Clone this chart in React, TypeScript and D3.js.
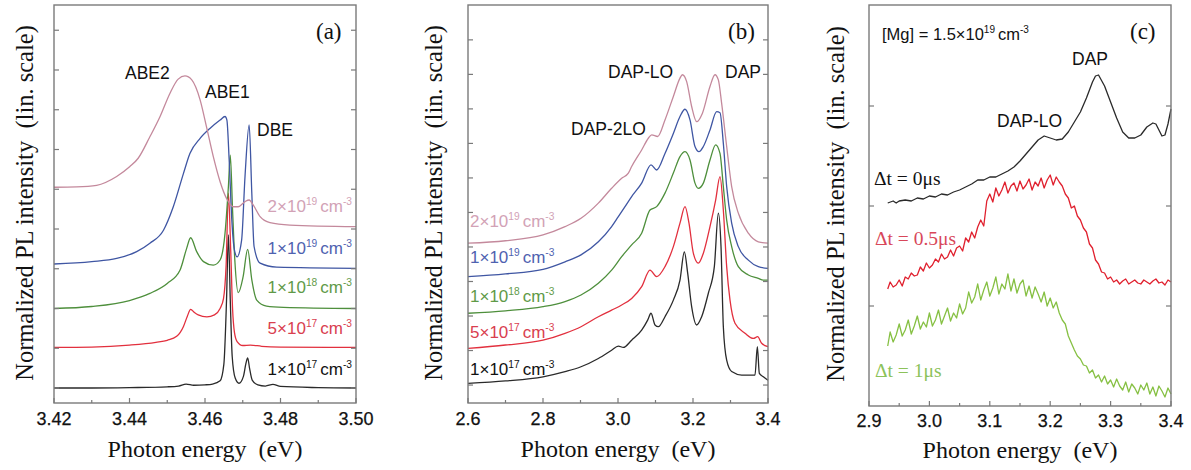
import React from "react";
import * as d3 from "d3";

type Pt = [number, number];

const SANS = "'Liberation Sans', Arial, sans-serif";
const SERIF = "'Liberation Serif', 'Times New Roman', serif";

// ---- panel (a): near band edge, 5 doping levels (offset, normalized) ----
const aXMajor = [3.42, 3.44, 3.46, 3.48, 3.5];
const aXMinor = [3.43, 3.45, 3.47, 3.49];
const aYTicks = [0, 1, 2, 3, 4, 5, 6, 7, 8, 9];

const a1e17: Pt[] = [[3.42,0.0],[3.43,0.0],[3.44,0.01],[3.45,0.03],[3.453,0.05],[3.455,0.1],[3.457,0.07],[3.46,0.08],[3.462,0.1],[3.464,0.18],[3.465,0.6],[3.4657,2.2],[3.4662,3.85],[3.4667,2.2],[3.4672,0.8],[3.468,0.25],[3.469,0.12],[3.4702,0.3],[3.4708,0.6],[3.4713,0.76],[3.4718,0.5],[3.4725,0.2],[3.474,0.08],[3.476,0.05],[3.478,0.09],[3.48,0.04],[3.49,0.01],[3.5,0.0]];
const a5e17: Pt[] = [[3.42,1.02],[3.43,1.03],[3.44,1.08],[3.447,1.15],[3.45,1.2],[3.4525,1.3],[3.4543,1.55],[3.4553,1.8],[3.4562,1.98],[3.4572,1.9],[3.4582,1.84],[3.4605,1.79],[3.4625,1.84],[3.464,2.0],[3.4649,2.25],[3.4656,3.1],[3.4662,4.9],[3.4668,3.5],[3.4673,2.0],[3.4678,1.4],[3.4685,1.17],[3.47,1.07],[3.472,1.08],[3.475,1.05],[3.48,1.03],[3.5,1.02]];
const a1e18: Pt[] = [[3.42,2.0],[3.43,2.05],[3.44,2.2],[3.4454,2.38],[3.45,2.63],[3.4534,2.97],[3.4551,3.5],[3.4562,3.78],[3.4578,3.43],[3.4596,3.18],[3.4622,3.09],[3.464,3.22],[3.4653,3.89],[3.4662,5.07],[3.4667,5.86],[3.4673,4.48],[3.4679,3.22],[3.4688,2.4],[3.4701,2.8],[3.4713,3.49],[3.4724,2.72],[3.4737,2.21],[3.4763,2.06],[3.4808,2.03],[3.5,2.0]];
const a1e19: Pt[] = [[3.42,3.12],[3.43,3.18],[3.4366,3.26],[3.4419,3.43],[3.4454,3.64],[3.449,3.97],[3.4516,4.56],[3.4543,5.4],[3.456,5.9],[3.4587,6.28],[3.4613,6.53],[3.464,6.74],[3.4653,6.83],[3.4658,6.74],[3.4664,5.74],[3.4671,4.23],[3.4678,3.47],[3.4685,3.3],[3.4697,3.72],[3.4706,5.32],[3.4717,6.62],[3.4724,4.9],[3.473,3.56],[3.4746,3.14],[3.479,3.04],[3.5,3.01]];
const a2e19: Pt[] = [[3.42,5.05],[3.426,5.06],[3.4313,5.1],[3.4366,5.32],[3.4401,5.57],[3.4423,5.78],[3.4454,6.32],[3.4481,6.83],[3.4507,7.41],[3.4529,7.77],[3.4547,7.85],[3.4565,7.75],[3.4587,7.25],[3.4604,6.57],[3.4622,5.82],[3.464,5.19],[3.4657,4.77],[3.4675,4.56],[3.4688,4.56],[3.4706,4.69],[3.4717,4.73],[3.4728,4.6],[3.4746,4.31],[3.4772,4.16],[3.4825,4.1],[3.5,4.06]];

// ---- panel (b): DAP band ----
const bXMajor = [2.6, 2.8, 3.0, 3.2, 3.4];
const bXMinor = [2.7, 2.9, 3.1, 3.3];
const bYTicks = [0, 1, 2, 3, 4, 5, 6, 7, 8, 9, 10];

const b1e17: Pt[] = [[2.6,0.05],[2.7,0.12],[2.8,0.24],[2.8587,0.39],[2.9013,0.53],[2.9476,0.77],[2.983,1.01],[3.0009,1.13],[3.0142,1.09],[3.0364,1.3],[3.0631,1.59],[3.0791,1.88],[3.088,2.08],[3.0987,1.74],[3.1076,1.69],[3.1253,1.98],[3.1476,2.46],[3.1653,3.04],[3.1769,3.86],[3.1858,3.24],[3.1964,2.27],[3.2098,1.74],[3.2231,1.98],[3.2409,2.66],[3.2569,3.43],[3.2676,4.98],[3.2747,4.01],[3.2809,1.69],[3.2898,0.72],[3.3031,0.39],[3.3298,0.29],[3.3653,0.29],[3.3716,1.11],[3.3769,0.34],[3.3876,0.24],[3.4,0.14]];
const b5e17: Pt[] = [[2.6,1.06],[2.7,1.16],[2.8,1.3],[2.8587,1.5],[2.9013,1.69],[2.9476,1.98],[2.983,2.17],[3.0098,2.32],[3.0364,2.51],[3.0631,2.85],[3.0853,3.33],[3.1031,3.14],[3.1253,3.43],[3.1476,4.01],[3.1653,4.69],[3.1787,5.17],[3.1893,4.69],[3.2009,3.82],[3.2142,3.53],[3.2276,3.82],[3.2453,4.59],[3.2604,5.36],[3.272,6.04],[3.2809,5.07],[3.2898,3.43],[3.2987,2.46],[3.312,1.79],[3.3387,1.5],[3.3609,1.35],[3.3724,1.4],[3.3831,1.21],[3.4,1.11]];
const b1e18: Pt[] = [[2.6,2.08],[2.7,2.15],[2.8,2.27],[2.8587,2.42],[2.9013,2.61],[2.9476,2.95],[2.983,3.33],[3.0098,3.72],[3.0364,4.06],[3.0631,4.4],[3.0853,5.07],[3.1031,5.17],[3.1253,5.56],[3.1476,6.14],[3.1653,6.62],[3.1787,6.76],[3.192,6.52],[3.2053,5.85],[3.2142,5.7],[3.2276,5.85],[3.2453,6.52],[3.2604,6.96],[3.272,6.71],[3.2809,5.75],[3.2898,4.78],[3.3031,4.01],[3.3209,3.43],[3.3476,3.19],[3.3742,3.09],[3.3876,3.04],[3.4,3.04]];
const b1e19: Pt[] = [[2.6,3.14],[2.7,3.22],[2.8,3.35],[2.8587,3.57],[2.9013,3.77],[2.9476,4.15],[2.983,4.59],[3.0009,4.88],[3.0187,5.17],[3.0364,5.46],[3.0631,5.85],[3.088,6.38],[3.1031,6.23],[3.1253,6.71],[3.1476,7.29],[3.1653,7.78],[3.1787,7.99],[3.192,7.68],[3.2053,6.91],[3.216,6.76],[3.2276,6.91],[3.2453,7.39],[3.2631,7.92],[3.272,7.89],[3.2809,7.0],[3.2898,5.75],[3.3031,4.69],[3.3209,4.01],[3.3476,3.62],[3.3742,3.43],[3.4,3.38]];
const b2e19: Pt[] = [[2.6,4.11],[2.7,4.18],[2.8,4.35],[2.8587,4.59],[2.9013,4.83],[2.9476,5.27],[2.983,5.7],[3.0098,5.99],[3.0276,6.14],[3.0364,6.33],[3.0631,6.81],[3.0809,7.15],[3.0898,7.25],[3.1058,7.2],[3.1253,7.68],[3.1476,8.36],[3.1653,8.89],[3.1716,8.99],[3.1831,8.79],[3.1964,8.07],[3.2098,7.63],[3.2249,7.87],[3.2453,8.65],[3.2587,8.99],[3.2676,8.84],[3.2764,8.16],[3.2898,6.91],[3.3031,5.75],[3.3209,4.98],[3.3476,4.4],[3.3742,4.15],[3.4,4.11]];

// ---- panel (c): time resolved, [Mg] = 1.5e19 ----
const cXMajor = [2.9, 3.0, 3.1, 3.2, 3.3, 3.4];
const cXMinor = [2.95, 3.05, 3.15, 3.25, 3.35];
const cYTicks = [1, 2, 3];

const cDt0: Pt[] = [[2.931,2.03],[2.94,2.05],[2.945,2.03],[2.95,2.05],[2.96,2.06],[2.97,2.05],[2.98,2.08],[2.99,2.07],[3.0,2.1],[3.01,2.09],[3.02,2.12],[3.03,2.11],[3.04,2.14],[3.05,2.16],[3.06,2.19],[3.07,2.22],[3.08,2.26],[3.09,2.26],[3.1,2.29],[3.11,2.29],[3.12,2.32],[3.13,2.35],[3.14,2.39],[3.15,2.45],[3.16,2.52],[3.17,2.59],[3.18,2.66],[3.19,2.7],[3.2,2.68],[3.21,2.66],[3.22,2.67],[3.23,2.74],[3.24,2.84],[3.25,2.94],[3.26,3.08],[3.27,3.24],[3.275,3.3],[3.28,3.31],[3.29,3.2],[3.3,3.04],[3.31,2.88],[3.32,2.74],[3.33,2.68],[3.34,2.68],[3.35,2.71],[3.36,2.79],[3.37,2.83],[3.375,2.82],[3.385,2.7],[3.39,2.71],[3.395,2.82],[3.4,2.97]];
const cDt05: Pt[] = [[2.931,1.17],[2.935,1.24],[2.94,1.19],[2.945,1.21],[2.95,1.26],[2.955,1.2],[2.96,1.29],[2.965,1.27],[2.97,1.33],[2.975,1.3],[2.98,1.31],[2.985,1.39],[2.99,1.35],[2.995,1.43],[3.0,1.38],[3.005,1.41],[3.01,1.47],[3.015,1.44],[3.02,1.52],[3.025,1.47],[3.03,1.49],[3.035,1.56],[3.04,1.5],[3.045,1.58],[3.05,1.6],[3.055,1.55],[3.06,1.68],[3.065,1.64],[3.07,1.74],[3.075,1.68],[3.08,1.79],[3.085,1.86],[3.09,1.8],[3.095,2.05],[3.1,2.12],[3.105,2.04],[3.11,2.18],[3.115,2.1],[3.12,2.16],[3.125,2.24],[3.13,2.13],[3.135,2.2],[3.14,2.23],[3.145,2.15],[3.15,2.25],[3.155,2.17],[3.16,2.21],[3.165,2.27],[3.17,2.16],[3.175,2.24],[3.18,2.2],[3.185,2.28],[3.19,2.18],[3.195,2.26],[3.2,2.31],[3.205,2.21],[3.21,2.29],[3.215,2.24],[3.22,2.2],[3.225,2.12],[3.23,2.08],[3.235,1.98],[3.24,2.0],[3.245,1.9],[3.25,1.86],[3.255,1.78],[3.26,1.74],[3.265,1.62],[3.27,1.58],[3.275,1.46],[3.28,1.42],[3.285,1.34],[3.29,1.33],[3.295,1.27],[3.3,1.29],[3.305,1.24],[3.31,1.26],[3.315,1.22],[3.32,1.25],[3.325,1.27],[3.33,1.22],[3.335,1.24],[3.34,1.26],[3.345,1.23],[3.35,1.22],[3.355,1.26],[3.36,1.24],[3.365,1.22],[3.37,1.25],[3.375,1.27],[3.38,1.23],[3.385,1.24],[3.39,1.21],[3.395,1.26],[3.4,1.24]];
const cDt1: Pt[] = [[2.931,0.6],[2.935,0.74],[2.94,0.64],[2.945,0.71],[2.95,0.82],[2.955,0.7],[2.96,0.76],[2.965,0.86],[2.97,0.72],[2.975,0.8],[2.98,0.9],[2.985,0.77],[2.99,0.84],[2.995,0.79],[3.0,0.93],[3.005,0.8],[3.01,0.86],[3.015,0.96],[3.02,0.82],[3.025,0.9],[3.03,0.98],[3.035,0.85],[3.04,0.93],[3.045,0.88],[3.05,1.02],[3.055,0.92],[3.06,0.98],[3.065,1.14],[3.07,1.03],[3.075,1.09],[3.08,1.22],[3.085,1.06],[3.09,1.16],[3.095,1.24],[3.1,1.1],[3.105,1.18],[3.11,1.29],[3.115,1.12],[3.12,1.22],[3.125,1.17],[3.13,1.32],[3.135,1.15],[3.14,1.27],[3.145,1.13],[3.15,1.22],[3.155,1.26],[3.16,1.1],[3.165,1.2],[3.17,1.08],[3.175,1.19],[3.18,1.12],[3.185,1.04],[3.19,1.14],[3.195,1.0],[3.2,1.08],[3.205,0.98],[3.21,1.04],[3.215,0.93],[3.22,0.86],[3.225,0.82],[3.23,0.7],[3.235,0.63],[3.24,0.56],[3.245,0.5],[3.25,0.47],[3.255,0.41],[3.26,0.4],[3.265,0.33],[3.27,0.36],[3.275,0.28],[3.28,0.31],[3.285,0.24],[3.29,0.3],[3.295,0.22],[3.3,0.26],[3.305,0.19],[3.31,0.27],[3.315,0.2],[3.32,0.16],[3.325,0.24],[3.33,0.14],[3.335,0.22],[3.34,0.18],[3.345,0.12],[3.35,0.21],[3.355,0.16],[3.36,0.23],[3.365,0.12],[3.37,0.19],[3.375,0.1],[3.38,0.2],[3.385,0.15],[3.39,0.09],[3.395,0.18],[3.4,0.12]];

interface Series { data: Pt[]; color: string; smooth?: boolean }
interface Box { l: number; r: number; t: number; b: number }

const FRAME = "#7a7a7a";

function Panel(props: {
  box: Box;
  xDomain: [number, number];
  yDomain: [number, number];
  xMajor: number[];
  xMinor: number[];
  yTicks: number[];
  fmt: (v: number) => string;
  series: Series[];
  labelY: number;
  titleY: number;
}) {
  const { box, xDomain, yDomain, xMajor, xMinor, yTicks, fmt, series, labelY, titleY } = props;
  const x = d3.scaleLinear().domain(xDomain).range([box.l, box.r]);
  const y = d3.scaleLinear().domain(yDomain).range([box.b, box.t]);
  const mkLine = (smooth?: boolean) =>
    d3
      .line<Pt>()
      .x((d) => x(d[0]))
      .y((d) => y(d[1]))
      .curve(smooth ? d3.curveMonotoneX : d3.curveLinear);
  const cx = (box.l + box.r) / 2;
  return (
    <g>
      {series.map((s, i) => (
        <path key={i} d={mkLine(s.smooth)(s.data) || ""} fill="none" stroke={s.color} strokeWidth={1.3} strokeLinejoin="round" />
      ))}
      <rect x={box.l} y={box.t} width={box.r - box.l} height={box.b - box.t} fill="none" stroke={FRAME} strokeWidth={1.4} />
      {yTicks.map((t) => (
        <g key={"y" + t}>
          <line x1={box.l} x2={box.l + 5} y1={y(t)} y2={y(t)} stroke={FRAME} strokeWidth={1.2} />
          <line x1={box.r} x2={box.r - 5} y1={y(t)} y2={y(t)} stroke={FRAME} strokeWidth={1.2} />
        </g>
      ))}
      {xMajor.map((t) => (
        <g key={"x" + t}>
          <line x1={x(t)} x2={x(t)} y1={box.b} y2={box.b - 5} stroke={FRAME} strokeWidth={1.2} />
          <text x={x(t)} y={labelY} textAnchor="middle" fontFamily={SANS} fontSize={18} fill="#111" stroke="#111" strokeWidth={0.25}>
            {fmt(t)}
          </text>
        </g>
      ))}
      {xMinor.map((t) => (
        <line key={"m" + t} x1={x(t)} x2={x(t)} y1={box.b} y2={box.b - 3} stroke={FRAME} strokeWidth={1.2} />
      ))}
      <text x={cx} y={titleY} textAnchor="middle" fontFamily={SERIF} fontSize={24} fill="#111" style={{ whiteSpace: "pre" }}>
        {"Photon energy  (eV)"}
      </text>
    </g>
  );
}

function YTitle({ x, y }: { x: number; y: number }) {
  return (
    <text transform={`translate(${x},${y}) rotate(-90)`} textAnchor="middle" fontFamily={SERIF} fontSize={24.5} fill="#111" style={{ whiteSpace: "pre" }}>
      {"Normalized PL intensity  (lin. scale)"}
    </text>
  );
}

function Conc({ x, y, mant, exp, color, anchor = "start", size = 17 }: { x: number; y: number; mant: string; exp: string; color: string; anchor?: string; size?: number }) {
  const sup = size * 0.6;
  const up = size * 0.42;
  return (
    <text x={x} y={y} textAnchor={anchor} fontFamily={SANS} fontSize={size} fill={color}>
      <tspan>{mant}×10</tspan>
      <tspan dy={-up} fontSize={sup}>{exp}</tspan>
      <tspan dy={up} dx={3}>cm</tspan>
      <tspan dy={-up} fontSize={sup}>-3</tspan>
    </text>
  );
}

function Lbl({ x, y, t, size = 17.5 }: { x: number; y: number; t: string; size?: number }) {
  return (
    <text x={x} y={y} fontFamily={SANS} fontSize={size} fill="#111">
      {t}
    </text>
  );
}

function Dt({ x, y, t, color }: { x: number; y: number; t: string; color: string }) {
  return (
    <text x={x} y={y} fontFamily={SERIF} fontSize={19.5} fill={color} style={{ whiteSpace: "pre" }}>
      {t}
    </text>
  );
}

const PINK = "#c4899c", BLUE = "#3f56a3", GREEN = "#4e8f3c", RED = "#e2303e", BLACK = "#2a2a2a";

export default function App() {
  const fmt2 = (v: number) => v.toFixed(2);
  const fmt1 = (v: number) => v.toFixed(1);
  return (
    <svg width={1191} height={470} style={{ position: "absolute", left: 0, top: 0, background: "#fff" }}>
      {/* (a) */}
      <Panel
        box={{ l: 54, r: 356, t: 5, b: 403 }}
        xDomain={[3.42, 3.5]}
        yDomain={[-0.377, 9.635]}
        xMajor={aXMajor}
        xMinor={aXMinor}
        yTicks={aYTicks}
        fmt={fmt2}
        labelY={425}
        titleY={457}
        series={[
          { data: a1e17, color: BLACK, smooth: true },
          { data: a5e17, color: RED, smooth: true },
          { data: a1e18, color: GREEN, smooth: true },
          { data: a1e19, color: BLUE, smooth: true },
          { data: a2e19, color: PINK, smooth: true },
        ]}
      />
      <YTitle x={33} y={203} />
      <Lbl x={125} y={79} t="ABE2" />
      <Lbl x={205} y={98} t="ABE1" />
      <Lbl x={257} y={136} t="DBE" />
      <text x={316} y={39} fontFamily={SERIF} fontSize={23} fill="#111">(a)</text>
      <Conc x={352} y={212} mant="2" exp="19" color="#d2a2b6" anchor="end" />
      <Conc x={352} y={254} mant="1" exp="19" color="#4f62b0" anchor="end" />
      <Conc x={352} y={293} mant="1" exp="18" color="#5f9a48" anchor="end" />
      <Conc x={352} y={334} mant="5" exp="17" color="#d9404f" anchor="end" />
      <Conc x={352} y={375} mant="1" exp="17" color="#111" anchor="end" />

      {/* (b) */}
      <Panel
        box={{ l: 468, r: 768, t: 5, b: 403 }}
        xDomain={[2.6, 3.4]}
        yDomain={[-0.52, 11.01]}
        xMajor={bXMajor}
        xMinor={bXMinor}
        yTicks={bYTicks}
        fmt={fmt1}
        labelY={425}
        titleY={457}
        series={[
          { data: b2e19, color: PINK, smooth: true },
          { data: b1e19, color: BLUE, smooth: true },
          { data: b1e18, color: GREEN, smooth: true },
          { data: b5e17, color: RED, smooth: true },
          { data: b1e17, color: BLACK, smooth: true },
        ]}
      />
      <YTitle x={442} y={203} />
      <Lbl x={608} y={78} t="DAP-LO" />
      <Lbl x={725} y={78} t="DAP" />
      <Lbl x={571} y={135} t="DAP-2LO" />
      <text x={728} y={39} fontFamily={SERIF} fontSize={23} fill="#111">(b)</text>
      <Conc x={470} y={227} mant="2" exp="19" color="#d2a2b6" />
      <Conc x={470} y={263} mant="1" exp="19" color="#4f62b0" />
      <Conc x={470} y={302} mant="1" exp="18" color="#5f9a48" />
      <Conc x={470} y={338} mant="5" exp="17" color="#d9404f" />
      <Conc x={470} y={375} mant="1" exp="17" color="#111" />

      {/* (c) */}
      <Panel
        box={{ l: 869, r: 1171, t: 5, b: 406 }}
        xDomain={[2.9, 3.4]}
        yDomain={[0, 4.01]}
        xMajor={cXMajor}
        xMinor={cXMinor}
        yTicks={cYTicks}
        fmt={fmt1}
        labelY={427}
        titleY={458}
        series={[
          { data: cDt0, color: BLACK },
          { data: cDt05, color: "#e0202e" },
          { data: cDt1, color: "#86c043" },
        ]}
      />
      <YTitle x={844} y={204} />
      <text x={882} y={40} fontFamily={SANS} fontSize={16.5} fill="#111" style={{ whiteSpace: "pre" }}>
        <tspan>{"[Mg] = 1.5×10"}</tspan>
        <tspan dy={-7} fontSize={10}>19</tspan>
        <tspan dy={7} dx={3}>cm</tspan>
        <tspan dy={-7} fontSize={10}>-3</tspan>
      </text>
      <text x={1130} y={39} fontFamily={SERIF} fontSize={23} fill="#111">(c)</text>
      <Lbl x={1072} y={65} t="DAP" />
      <Lbl x={997} y={127} t="DAP-LO" />
      <Dt x={874} y={185} t="Δt = 0μs" color="#111" />
      <Dt x={875} y={245} t="Δt = 0.5μs" color="#d8475a" />
      <Dt x={875} y={377} t="Δt = 1μs" color="#8cc25a" />
    </svg>
  );
}
